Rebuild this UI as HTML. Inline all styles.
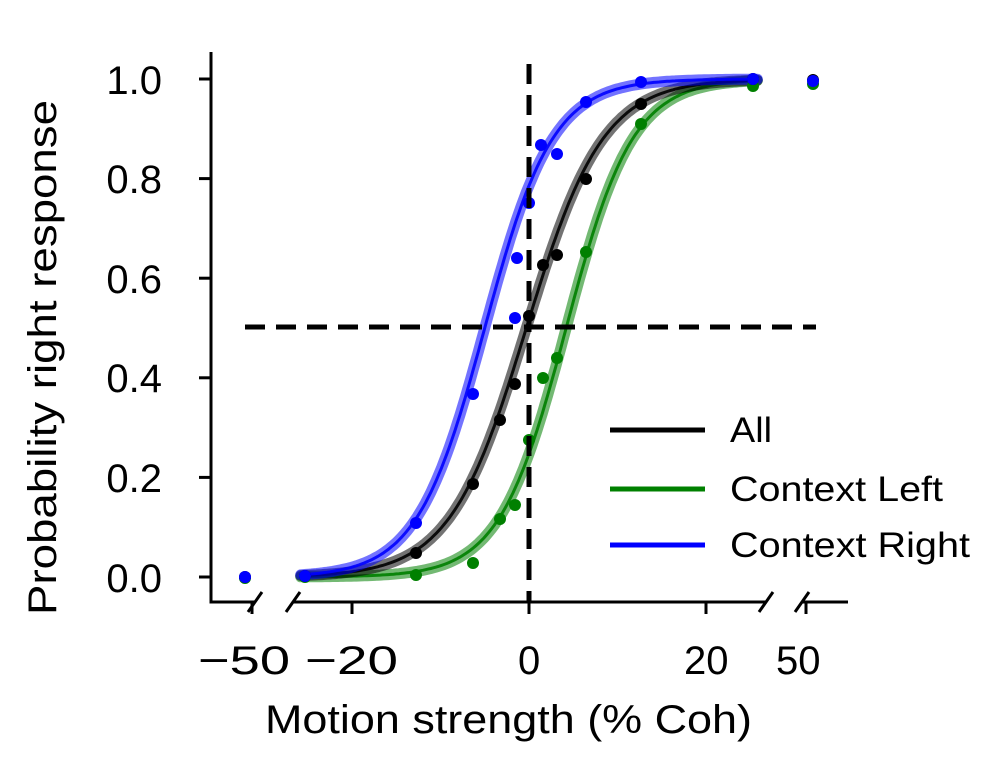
<!DOCTYPE html>
<html><head><meta charset="utf-8"><style>
body{margin:0;background:#fff}
svg text{font-family:"Liberation Sans",sans-serif;fill:#000}
</style></head><body>
<svg id="s" width="995" height="766" viewBox="0 0 995 766" xmlns="http://www.w3.org/2000/svg">
<g stroke="#000" stroke-width="3" fill="none">
<line x1="211" y1="52" x2="211" y2="603.5"/>
<line x1="209.5" y1="602" x2="255" y2="602"/>
<line x1="293" y1="602" x2="766" y2="602"/>
<line x1="802" y1="602" x2="848" y2="602"/>
<line x1="248" y1="612" x2="262" y2="592"/>
<line x1="286" y1="612" x2="300" y2="592"/>
<line x1="759" y1="612" x2="773" y2="592"/>
<line x1="795" y1="612" x2="809" y2="592"/>
<line x1="252" y1="602" x2="252" y2="614"/>
<line x1="352" y1="602" x2="352" y2="614"/>
<line x1="529" y1="602" x2="529" y2="614"/>
<line x1="706" y1="602" x2="706" y2="614"/>
<line x1="806" y1="602" x2="806" y2="614"/>
<line x1="199" y1="79" x2="211" y2="79"/>
<line x1="199" y1="178.6" x2="211" y2="178.6"/>
<line x1="199" y1="278.2" x2="211" y2="278.2"/>
<line x1="199" y1="377.8" x2="211" y2="377.8"/>
<line x1="199" y1="477.4" x2="211" y2="477.4"/>
<line x1="199" y1="577" x2="211" y2="577"/>
</g>
<g font-size="40" text-anchor="end">
<text x="162" y="94">1.0</text><text x="162" y="193">0.8</text><text x="162" y="293">0.6</text>
<text x="162" y="392">0.4</text><text x="162" y="492">0.2</text><text x="162" y="592">0.0</text>
</g>
<g font-size="40">
<text x="198" y="674" textLength="92" lengthAdjust="spacingAndGlyphs">−50</text>
<text x="305" y="674" textLength="93" lengthAdjust="spacingAndGlyphs">−20</text>
<text x="518" y="674">0</text>
<text x="684" y="674">20</text><text x="776" y="674">50</text>
<text x="265" y="733" textLength="487" lengthAdjust="spacingAndGlyphs">Motion strength (% Coh)</text>
<text transform="translate(56,615) rotate(-90)" textLength="515" lengthAdjust="spacingAndGlyphs">Probability right response</text>
</g>
<g id="curves"></g>
<g id="pts"></g>
<line x1="529" y1="64" x2="529" y2="602" stroke="#000" stroke-width="5" stroke-dasharray="20,11"/>
<line x1="245" y1="327" x2="816" y2="327" stroke="#000" stroke-width="5" stroke-dasharray="20,11"/>
<g stroke-width="5">
<line x1="610" y1="430" x2="705" y2="430" stroke="#000"/>
<line x1="610" y1="489" x2="705" y2="489" stroke="#008000"/>
<line x1="610" y1="545" x2="705" y2="545" stroke="#0000ff"/>
</g>
<g font-size="35">
<text x="730" y="442" textLength="42" lengthAdjust="spacingAndGlyphs">All</text>
<text x="730" y="501" textLength="213" lengthAdjust="spacingAndGlyphs">Context Left</text>
<text x="730" y="557" textLength="240" lengthAdjust="spacingAndGlyphs">Context Right</text>
</g>
</svg>
<script>
var ns="http://www.w3.org/2000/svg";
function X(u){return 529+u*8.85}function Y(p){return 577-p*498}
var series=[["#008000",4.2,0.265],["#000000",-0.3,0.23],["#0000ff",-5.0,0.26]];
var cg=document.getElementById("curves");
series.forEach(function(s){
 var d="";for(var u=-25.8;u<=26.01;u+=0.3){var p=1/(1+Math.exp(-s[2]*(u-s[1])));d+=(d?"L":"M")+X(u).toFixed(1)+","+Y(p).toFixed(1);}
 [[11,0.55],[3,0.9]].forEach(function(w){var e=document.createElementNS(ns,"path");e.setAttribute("d",d);e.setAttribute("fill","none");e.setAttribute("stroke",s[0]);e.setAttribute("stroke-width",w[0]);e.setAttribute("stroke-opacity",w[1]);e.setAttribute("stroke-linecap","round");cg.appendChild(e);});
});
var P={"#008000":[[245,578],[305,577],[416,575],[473,563],[500,519],[515,505],[529,440],[543,378],[557,358],[586,252],[641,124],[753,86],[813,84]],
"#000000":[[245,577],[305,576],[416,553],[473,484],[500,420],[515,384],[529,316],[543,265],[557,255],[586,179],[641,104],[753,79],[813,80]],
"#0000ff":[[245,577],[305,576],[416,523],[473,394],[515,318],[517,258],[529,203],[541,145],[557,154],[586,102],[641,82],[753,79],[813,81]]};
var pg=document.getElementById("pts");
for(var c in P)P[c].forEach(function(q){var e=document.createElementNS(ns,"circle");e.setAttribute("cx",q[0]);e.setAttribute("cy",q[1]);e.setAttribute("r",6);e.setAttribute("fill",c);pg.appendChild(e);});
</script>
</body></html>
